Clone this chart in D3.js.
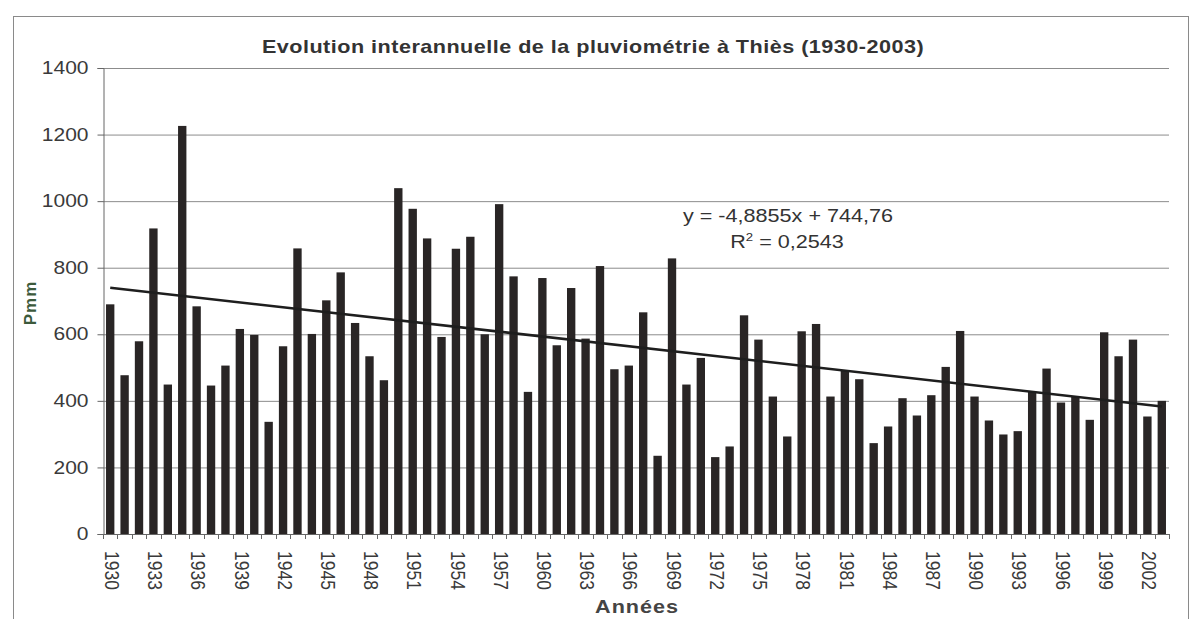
<!DOCTYPE html>
<html>
<head>
<meta charset="utf-8">
<script src="https://cdn.jsdelivr.net/npm/d3@7"></script>
<style>
  body { margin: 0; background: #fff; }
  text { font-family: "Liberation Sans", Arial, sans-serif; }
</style>
</head>
<body>
<div class="chart"></div>
<script>
// rainfall at Thiès, mm per year
const years = d3.range(1930, 2004);
const rainfall = [
  690, 477, 579, 918, 449, 1226, 684, 446, 506, 616,
  598, 337, 564, 858, 601, 702, 786, 634, 534, 462,
  1039, 977, 888, 592, 857, 893, 600, 991, 774, 427,
  769, 567, 739, 587, 805, 495, 506, 666, 235, 828,
  449, 529, 231, 263, 657, 584, 413, 293, 609, 631,
  413, 491, 465, 273, 323, 408, 356, 417, 502, 610,
  413, 341, 299, 309, 428, 497, 395, 413, 343, 606,
  534, 584, 353, 400
];
const yTicks = [0, 200, 400, 600, 800, 1000, 1200, 1400];
// Excel linear trend, x = 1..74
const trendSlope = -4.8855;
const trendIntercept = 744.76;

const W = 1196, H = 619;
const margin = { top: 68, right: 27, bottom: 85, left: 103 };
const sx = 1.2; // the scan is stretched sideways

const svg = d3.select('.chart')
  .append('svg')
  .attr('width', W)
  .attr('height', H);

// outer frame
svg.append('rect')
  .attr('x', 13.5).attr('y', 16.5)
  .attr('width', 1175).attr('height', 640)
  .attr('fill', 'none')
  .attr('stroke', '#8a8a8a');

const x = d3.scaleBand()
  .domain(years)
  .range([margin.left, W - margin.right])
  .paddingInner(0.42)
  .paddingOuter(0.21);

const y = d3.scaleLinear()
  .domain([0, 1400])
  .range([H - margin.bottom, margin.top]);

// gridlines
svg.append('g')
  .selectAll('line')
  .data(yTicks.slice(1))
  .enter().append('line')
  .attr('x1', margin.left).attr('x2', W - margin.right)
  .attr('y1', d => y(d) + 0.5).attr('y2', d => y(d) + 0.5)
  .attr('stroke', '#8c8c8c')
  .attr('stroke-width', 1);

// bars
svg.append('g')
  .selectAll('rect')
  .data(years)
  .enter().append('rect')
  .attr('x', d => x(d))
  .attr('width', x.bandwidth())
  .attr('y', (d, i) => y(rainfall[i]))
  .attr('height', (d, i) => y(0) - y(rainfall[i]))
  .attr('fill', '#292525');

// y axis
const yAxis = svg.append('g')
  .attr('transform', `translate(${margin.left + 0.5},0)`)
  .call(d3.axisLeft(y).tickValues(yTicks).tickSize(6).tickFormat(d3.format('d')));
yAxis.select('.domain').attr('stroke', '#666');
yAxis.selectAll('.tick line').attr('stroke', '#666');
yAxis.selectAll('text')
  .attr('x', 0)
  .attr('font-size', 17.5)
  .attr('fill', '#3a3a3a')
  .attr('transform', `translate(-15,0) scale(${sx},1)`);

// x axis line + ticks at every category boundary
const step = x.step();
const edges = years.map(d => x(d) - (step - x.bandwidth()) / 2).concat([W - margin.right]);
svg.append('line')
  .attr('x1', margin.left).attr('x2', W - margin.right)
  .attr('y1', y(0) + 0.5).attr('y2', y(0) + 0.5)
  .attr('stroke', '#666');
svg.append('g')
  .selectAll('line')
  .data(edges)
  .enter().append('line')
  .attr('x1', d => Math.round(d) + 0.5).attr('x2', d => Math.round(d) + 0.5)
  .attr('y1', y(0)).attr('y2', y(0) + 5)
  .attr('stroke', '#666');

const xAxis = svg.append('g')
  .attr('transform', `translate(0,${y(0)})`)
  .call(d3.axisBottom(x).tickValues(years.filter((d, i) => i % 3 === 0)).tickSize(0));
xAxis.select('.domain').remove();
xAxis.selectAll('text')
  .attr('y', 0).attr('x', 0).attr('dy', '0.35em')
  .attr('text-anchor', 'start')
  .attr('font-size', 17.5)
  .attr('fill', '#3a3a3a')
  .attr('transform', `translate(2,17) scale(${sx},1) rotate(90)`);

// trend line
const line = d3.line()
  .x(d => x(d) + x.bandwidth() / 2)
  .y(d => y(trendSlope * (d - 1929) + trendIntercept));
svg.append('path')
  .datum([years[0], years[years.length - 1]])
  .attr('d', line)
  .attr('fill', 'none')
  .attr('stroke', '#1e1e1e')
  .attr('stroke-width', 2.6);

// titles
svg.append('text')
  .attr('transform', `translate(593,53) scale(${sx},1)`)
  .attr('text-anchor', 'middle')
  .attr('font-size', 18)
  .attr('letter-spacing', 0.4)
  .attr('font-weight', 'bold')
  .attr('fill', '#333')
  .text('Evolution interannuelle de la pluviométrie à Thiès (1930-2003)');

svg.append('text')
  .attr('transform', `translate(637,613) scale(${sx},1)`)
  .attr('text-anchor', 'middle')
  .attr('font-size', 18)
  .attr('letter-spacing', 0.8)
  .attr('font-weight', 'bold')
  .attr('fill', '#444')
  .text('Années');

svg.append('text')
  .attr('transform', `translate(36,303) rotate(-90)`)
  .attr('text-anchor', 'middle')
  .attr('font-size', 17)
  .attr('letter-spacing', 1)
  .attr('font-weight', 'bold')
  .attr('fill', '#3c5a3c')
  .text('Pmm');

// equation
const eq = svg.append('g').attr('fill', '#333').attr('font-size', 18);
eq.append('text')
  .attr('transform', `translate(788,222) scale(${sx},1)`)
  .attr('text-anchor', 'middle')
  .text('y = -4,8855x + 744,76');
const r2 = eq.append('text')
  .attr('transform', `translate(787,248) scale(${sx},1)`)
  .attr('text-anchor', 'middle');
r2.append('tspan').text('R');
r2.append('tspan').attr('dy', -7).attr('font-size', 11).text('2');
r2.append('tspan').attr('dy', 7).text(' = 0,2543');
</script>
</body>
</html>
